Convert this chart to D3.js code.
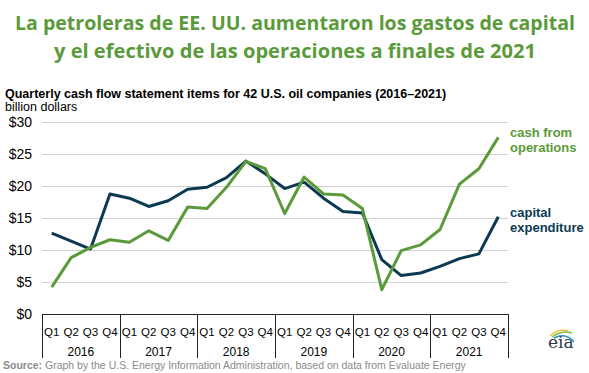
<!DOCTYPE html>
<html>
<head>
<meta charset="utf-8">
<script src="https://cdn.jsdelivr.net/npm/d3@7"></script>
<style>
  body { margin: 0; background: #fff; }
  svg { display: block; }
</style>
</head>
<body>
<div id="chart"></div>
<script>
// data, billion dollars
const years = ["2016", "2017", "2018", "2019", "2020", "2021"];
const quarters = ["Q1", "Q2", "Q3", "Q4"];
const cashFromOps = [4.2, 8.8, 10.4, 11.6, 11.2, 13.0, 11.5, 16.7, 16.5, 19.8, 23.85, 22.7,
  15.7, 21.4, 18.75, 18.6, 16.5, 3.8, 9.9, 10.8, 13.2, 20.3, 22.7, 27.6];
const capex = [12.65, 11.4, 10.15, 18.75, 18.1, 16.8, 17.7, 19.5, 19.8, 21.3, 23.9, 21.9,
  19.6, 20.6, 18.1, 16.0, 15.8, 8.5, 6.0, 6.4, 7.45, 8.65, 9.4, 15.2];
const yTicks = [0, 5, 10, 15, 20, 25, 30];

const W = 589, H = 373;
const green = "#5b9a3a", navy = "#0b3a52";
const plotL = 42, plotR = 508, plotT = 122, plotB = 314;

const svg = d3.select("#chart").append("svg").attr("width", W).attr("height", H);

// title
const title = svg.append("text")
  .attr("text-anchor", "middle")
  .attr("fill", green)
  .style("font-family", "'Open Sans', sans-serif")
  .style("font-weight", 700)
  .style("font-size", "20px");
title.append("tspan").attr("x", 295).attr("y", 30).attr("textLength", 560).attr("lengthAdjust", "spacingAndGlyphs")
  .text("La petroleras de EE. UU. aumentaron los gastos de capital");
title.append("tspan").attr("x", 295).attr("y", 58).attr("textLength", 482).attr("lengthAdjust", "spacingAndGlyphs")
  .text("y el efectivo de las operaciones a finales de 2021");

svg.append("text").attr("x", 5).attr("y", 98)
  .style("font-family", "Arial, 'Liberation Sans', sans-serif")
  .style("font-weight", "bold").style("font-size", "12.5px")
  .text("Quarterly cash flow statement items for 42 U.S. oil companies (2016\u20132021)");
svg.append("text").attr("x", 5).attr("y", 111)
  .style("font-family", "Arial, 'Liberation Sans', sans-serif")
  .style("font-size", "12.5px")
  .text("billion dollars");

// scales
const keys = [];
years.forEach(yr => quarters.forEach(q => keys.push(yr + q)));
const x = d3.scaleBand().domain(keys).range([plotL, plotR]);
const xYear = d3.scaleBand().domain(years).range([plotL, plotR]);
const y = d3.scaleLinear().domain([0, 30]).range([plotB, plotT]);

// gridlines
svg.append("g").selectAll("line").data(yTicks.filter(d => d > 0)).join("line")
  .attr("x1", plotL).attr("x2", plotR)
  .attr("y1", d => Math.round(y(d)) + 0.5).attr("y2", d => Math.round(y(d)) + 0.5)
  .attr("stroke", "#d0d0d0").attr("stroke-width", 1);

// y labels
svg.append("g").selectAll("text").data(yTicks).join("text")
  .attr("x", 32).attr("y", d => y(d) + 5)
  .attr("text-anchor", "end")
  .style("font-family", "Arial, 'Liberation Sans', sans-serif")
  .style("font-size", "14px")
  .text(d => "$" + d);

// x axis box
const ax = svg.append("g").attr("stroke", "#222").attr("stroke-width", 1);
ax.append("line").attr("x1", plotL).attr("x2", plotR).attr("y1", plotB + 0.5).attr("y2", plotB + 0.5);
const divs = years.map(d => xYear(d)).concat([plotR]);
ax.selectAll("line.div").data(divs).join("line").attr("class", "div")
  .attr("x1", d => Math.round(d) + 0.5).attr("x2", d => Math.round(d) + 0.5)
  .attr("y1", plotB).attr("y2", 358);

svg.append("g").selectAll("text").data(keys).join("text")
  .attr("x", d => x(d) + x.bandwidth() / 2).attr("y", 336)
  .attr("text-anchor", "middle")
  .style("font-family", "Arial, 'Liberation Sans', sans-serif")
  .style("font-size", "11.5px")
  .text(d => d.slice(4));

svg.append("g").selectAll("text").data(years).join("text")
  .attr("x", d => xYear(d) + xYear.bandwidth() / 2).attr("y", 356)
  .attr("text-anchor", "middle")
  .style("font-family", "Arial, 'Liberation Sans', sans-serif")
  .style("font-size", "12px")
  .text(d => d);

// lines
const line = d3.line().x((d, i) => x(keys[i]) + x.bandwidth() / 2).y(d => y(d));
svg.append("path").datum(capex).attr("d", line)
  .attr("fill", "none").attr("stroke", navy).attr("stroke-width", 3).attr("stroke-linejoin", "round");
svg.append("path").datum(cashFromOps).attr("d", line)
  .attr("fill", "none").attr("stroke", green).attr("stroke-width", 3).attr("stroke-linejoin", "round");

// series labels
const lab = (lines, y0, color) => {
  const t = svg.append("text").attr("fill", color)
    .style("font-family", "Arial, 'Liberation Sans', sans-serif")
    .style("font-weight", "bold").style("font-size", "13px");
  lines.forEach((s, i) => t.append("tspan").attr("x", 510).attr("y", y0 + i * 15).text(s));
};
lab(["cash from", "operations"], 137, green);
lab(["capital", "expenditure"], 217, navy);

// source
const src = svg.append("text").attr("x", 3).attr("y", 369)
  .attr("fill", "#8a8a8a")
  .style("font-family", "Arial, 'Liberation Sans', sans-serif")
  .style("font-size", "10.5px");
src.append("tspan").style("font-weight", "bold").text("Source:");
src.append("tspan").text(" Graph by the U.S. Energy Information Administration, based on data from Evaluate Energy");

// eia logo
const logo = svg.append("g").attr("transform", "translate(548,330)");
logo.append("path").attr("d", "M2,6 Q10,-2 20,1").attr("fill", "none").attr("stroke", "#f2c230").attr("stroke-width", 1.5);
logo.append("path").attr("d", "M4,7 Q14,0 24,3").attr("fill", "none").attr("stroke", "#7cbf45").attr("stroke-width", 1.5);
logo.append("path").attr("d", "M6,8 Q18,2 26,12").attr("fill", "none").attr("stroke", "#2a8fc0").attr("stroke-width", 1.5);
logo.append("text").attr("x", 0).attr("y", 18)
  .style("font-family", "'DejaVu Serif', 'Liberation Serif', serif")
  .style("font-size", "17px").attr("fill", "#2b3a4a").text("eia");
</script>
</body>
</html>
